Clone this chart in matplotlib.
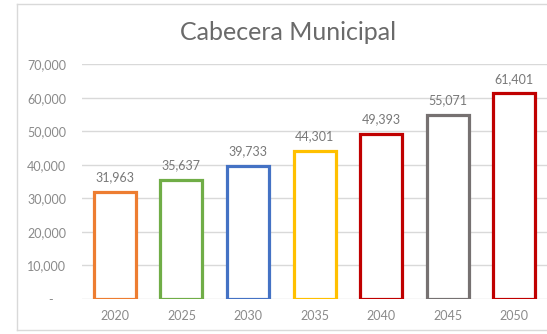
import matplotlib.pyplot as plt
from matplotlib.lines import Line2D
from matplotlib.ticker import FuncFormatter

# Population projection for the municipal seat
years = ['2020', '2025', '2030', '2035', '2040', '2045', '2050']
population = [31963, 35637, 39733, 44301, 49393, 55071, 61401]
bar_colors = ['#ED7D31', '#70AD47', '#4472C4', '#FFC000', '#C00000', '#767171', '#C00000']
y_ticks = [0, 10000, 20000, 30000, 40000, 50000, 60000, 70000]

plt.rcParams['font.family'] = ['Lato', 'DejaVu Sans']
title_color = '#6a6a6a'
label_color = '#787878'
tick_color = '#8a8a8a'
grid_color = '#D9D9D9'

W, H = 547, 334
fig = plt.figure(figsize=(5.4701, 3.3401), dpi=100)
fig.patch.set_facecolor('white')

# Chart area border (left, top, bottom; right side runs off the image)
left, top, bottom = 16.5, 4.5, 330.5
for xs, ys in [((left, left), (top, bottom)),
               ((left, W + 5), (top, top)),
               ((left, W + 5), (bottom, bottom))]:
    fig.add_artist(Line2D([v / W for v in xs], [1 - v / H for v in ys],
                          transform=fig.transFigure, color=grid_color, linewidth=1.0))

ax = fig.add_axes([81.6 / W, 35 / H, 466 / W, 234.5 / H])

x = range(len(years))
ax.bar(x, population, width=0.63, facecolor='white', edgecolor=bar_colors,
       linewidth=2.3, zorder=3)

for xi, val in zip(x, population):
    ax.annotate(f'{val:,}', (xi, val), xytext=(0, 6), textcoords='offset points',
                ha='center', va='bottom', fontsize=9, color=label_color)

ax.set_xlim(-0.5, len(years) - 0.5)
ax.set_ylim(0, 70000)
ax.set_xticks(list(x))
ax.set_xticklabels(years)
ax.set_yticks(y_ticks)
ax.yaxis.set_major_formatter(FuncFormatter(lambda v, p: '-    ' if v == 0 else f'{int(v):,}'))

ax.tick_params(axis='both', length=0, labelsize=9, labelcolor=tick_color)
ax.tick_params(axis='y', pad=11)
ax.tick_params(axis='x', pad=8)
ax.grid(axis='y', color=grid_color, linewidth=1.0, zorder=0)
for spine in ax.spines.values():
    spine.set_visible(False)

fig.text(288 / W, 1 - 32 / H, 'Cabecera Municipal', ha='center', va='center',
         fontsize=18, color=title_color)

fig.savefig('out.png', dpi=100)
